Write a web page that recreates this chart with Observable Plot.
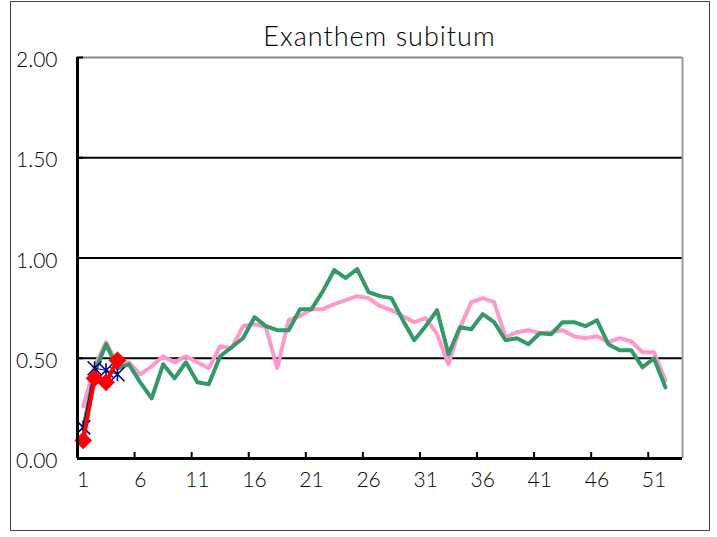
<!DOCTYPE html>
<html><head><meta charset="utf-8">
<script src="https://cdn.jsdelivr.net/npm/d3@7"></script>
<script src="https://cdn.jsdelivr.net/npm/@observablehq/plot@0.6"></script>
<style>
body{margin:0;background:#fff;}
#wrap{position:relative;width:717px;height:537px;overflow:hidden;font-family:Lato,"Liberation Sans",Arial,sans-serif;}
#border{position:absolute;left:10px;top:1px;width:698px;height:528px;border:1px solid #444;}
#title{position:absolute;left:77px;width:605px;top:20px;height:32px;line-height:32px;text-align:center;font-size:27px;font-weight:300;color:#000;letter-spacing:1px;}
#chart{position:absolute;left:0;top:50px;}
#chart svg text{font-weight:300;fill:#000;}
</style></head><body>
<div id="wrap"><div id="border"></div><div id="title">Exanthem subitum</div><div id="chart"></div></div>
<script>
const weeks = [1,2,3,4,5,6,7,8,9,10,11,12,13,14,15,16,17,18,19,20,21,22,23,24,25,26,27,28,29,30,31,32,33,34,35,36,37,38,39,40,41,42,43,44,45,46,47,48,49,50,51,52];
const pastAverage = [0.26,0.46,0.58,0.47,0.48,0.42,0.46,0.51,0.48,0.51,0.48,0.45,0.56,0.55,0.66,0.67,0.655,0.45,0.69,0.71,0.745,0.745,0.77,0.79,0.81,0.80,0.76,0.74,0.71,0.68,0.70,0.62,0.47,0.65,0.78,0.80,0.78,0.605,0.63,0.64,0.625,0.63,0.64,0.61,0.60,0.61,0.58,0.60,0.585,0.53,0.53,0.39];
const lastYear = [0.15,0.43,0.57,0.45,0.47,0.38,0.30,0.47,0.40,0.48,0.38,0.37,0.51,0.555,0.60,0.705,0.66,0.64,0.64,0.745,0.745,0.835,0.94,0.90,0.945,0.83,0.81,0.80,0.69,0.59,0.66,0.74,0.52,0.655,0.645,0.72,0.68,0.59,0.60,0.57,0.625,0.62,0.68,0.68,0.66,0.69,0.57,0.54,0.54,0.455,0.50,0.355];
const currentWeeks = [1,2,3,4];
const currentYear = [0.09,0.40,0.38,0.49];
const prevSeason = [0.155,0.45,0.44,0.42];
const yTicks = [0,0.5,1,1.5,2];
const gridValues = [0.5,1,1.5];
const xLabels = [1,6,11,16,21,26,31,36,41,46,51];
const xTickMarks = [5.5,10.5,15.5,20.5,25.5,30.5,35.5,40.5,45.5,50.5];

const rows = (xs, ys) => xs.map((w, i) => ({week: w, value: ys[i]}));
const pinkRows = rows(weeks, pastAverage);
const greenRows = rows(weeks, lastYear);
const redRows = rows(currentWeeks, currentYear);
const navyRows = rows(currentWeeks, prevSeason);

const asterisk = {draw(ctx, size){ const r = Math.sqrt(size/Math.PI);
  ctx.moveTo(-r,-r); ctx.lineTo(r,r); ctx.moveTo(r,-r); ctx.lineTo(-r,r);
  ctx.moveTo(0,-r); ctx.lineTo(0,r); }};

const font = 'Lato, "Liberation Sans", Arial, sans-serif';
const chart = Plot.plot({
  width: 717, height: 487,
  marginLeft: 77, marginRight: 35, marginTop: 7, marginBottom: 79,
  style: {fontFamily: font, fontSize: "21px", background: "transparent", overflow: "visible", color: "#000"},
  x: {domain: [0.5, 53.5], axis: null},
  y: {domain: [0, 2], axis: null},
  marks: [
    Plot.ruleY(gridValues, {stroke: "#000", strokeWidth: 1.8}),
    Plot.ruleY([2], {stroke: "#888", strokeWidth: 2}),
    Plot.ruleX([53.5], {stroke: "#999", strokeWidth: 2}),
    Plot.tickX(xTickMarks, {stroke: "#000", strokeWidth: 2, insetTop: 395}),
    Plot.tickY(yTicks, {stroke: "#000", strokeWidth: 2, insetRight: 599}),
    Plot.line(pinkRows, {x: "week", y: "value", stroke: "#FF99CC", strokeWidth: 4, strokeLinejoin: "round"}),
    Plot.line(greenRows, {x: "week", y: "value", stroke: "#339966", strokeWidth: 4, strokeLinejoin: "round"}),
    Plot.line(navyRows, {x: "week", y: "value", stroke: "#000080", strokeWidth: 1.2}),
    Plot.dot(navyRows, {x: "week", y: "value", symbol: asterisk, r: 7, fill: "none", stroke: "#000080", strokeWidth: 1.6}),
    Plot.line(redRows, {x: "week", y: "value", stroke: "#FF0000", strokeWidth: 4}),
    Plot.dot(redRows, {x: "week", y: "value", symbol: "diamond2", r: 8, fill: "#FF0000", stroke: "none"}),
    Plot.ruleX([0.5], {stroke: "#000", strokeWidth: 3}),
    Plot.ruleY([0], {stroke: "#000", strokeWidth: 3}),
    Plot.axisY(yTicks, {tickSize: 0, tickPadding: 20, tickFormat: d => d.toFixed(2), fontSize: 21, dy: 3, label: null, fill: "#000"}),
    Plot.axisX(xLabels, {tickSize: 0, tickPadding: 14, fontSize: 21, label: null, fill: "#000"})
  ]
});
document.getElementById("chart").appendChild(chart);
</script>
</body></html>
